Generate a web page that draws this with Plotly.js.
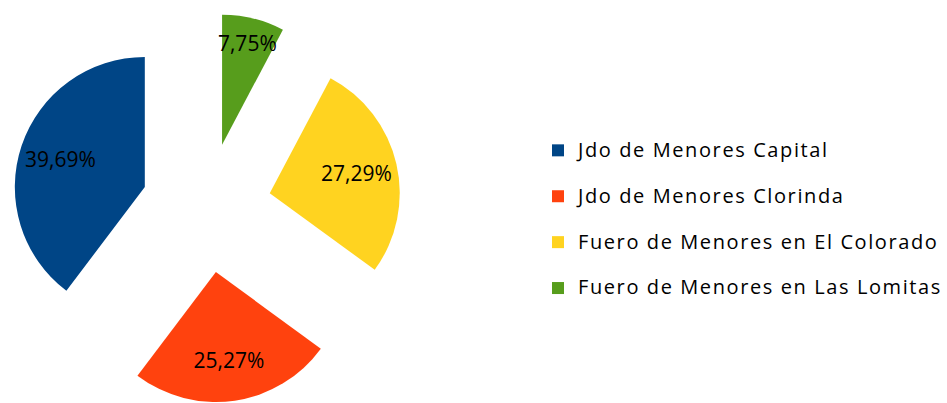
<!DOCTYPE html>
<html>
<head>
<meta charset="utf-8">
<script src="https://cdn.plot.ly/plotly-3.0.1.min.js"></script>
<style>
html,body{margin:0;padding:0;background:#fff;}
#chart{width:947px;height:403px;}
.legendtext{letter-spacing:1.6px;}
</style>
</head>
<body>
<div id="chart"></div>
<script>
const categories = [
  "Jdo de Menores Capital",
  "Jdo de Menores Clorinda",
  "Fuero de Menores en El Colorado",
  "Fuero de Menores en Las Lomitas"
];
const shares = [39.69, 25.27, 27.29, 7.75];
const sliceColors = ["#004586", "#ff420e", "#ffd320", "#579d1c"];

const total = shares.reduce((a, b) => a + b, 0);
const startRotation = -shares[0] / total * 360;
const valueText = shares.map(v => v.toFixed(2).replace(".", ",") + "%");
const pulls = shares.map(() => 0.5);
const dom = {x: [0.0121, 0.4243], y: [0, 0.969]};

const slices = {
  type: "pie",
  labels: categories.map(c => '<span style="font-size:20px">' + c + '</span><br> '),
  values: shares,
  textinfo: "none",
  marker: {colors: sliceColors, line: {width: 0}},
  sort: false,
  direction: "counterclockwise",
  rotation: startRotation,
  pull: pulls,
  domain: dom,
  hoverinfo: "none"
};

const labelsLayer = {
  type: "pie",
  labels: categories,
  values: shares,
  text: valueText,
  textinfo: "text",
  textposition: "inside",
  insidetextorientation: "horizontal",
  textfont: {family: "Open Sans", size: 21, color: "#000"},
  marker: {colors: shares.map(() => "rgba(0,0,0,0)"), line: {width: 0}},
  hole: 0.37,
  sort: false,
  direction: "counterclockwise",
  rotation: startRotation,
  pull: pulls,
  domain: dom,
  showlegend: false,
  hoverinfo: "none"
};

const layout = {
  width: 947,
  height: 403,
  margin: {l: 0, r: 0, t: 0, b: 0},
  paper_bgcolor: "#fff",
  plot_bgcolor: "#fff",
  showlegend: true,
  uniformtext: {minsize: 21, mode: "show"},
  legend: {
    x: 0.569, xanchor: "left",
    y: 0.429, yanchor: "middle",
    valign: "top",
    font: {family: "Open Sans", size: 16.5, color: "#000"},
    bgcolor: "rgba(0,0,0,0)"
  }
};

Plotly.newPlot("chart", [slices, labelsLayer], layout, {displayModeBar: false, staticPlot: true});
</script>
</body>
</html>
